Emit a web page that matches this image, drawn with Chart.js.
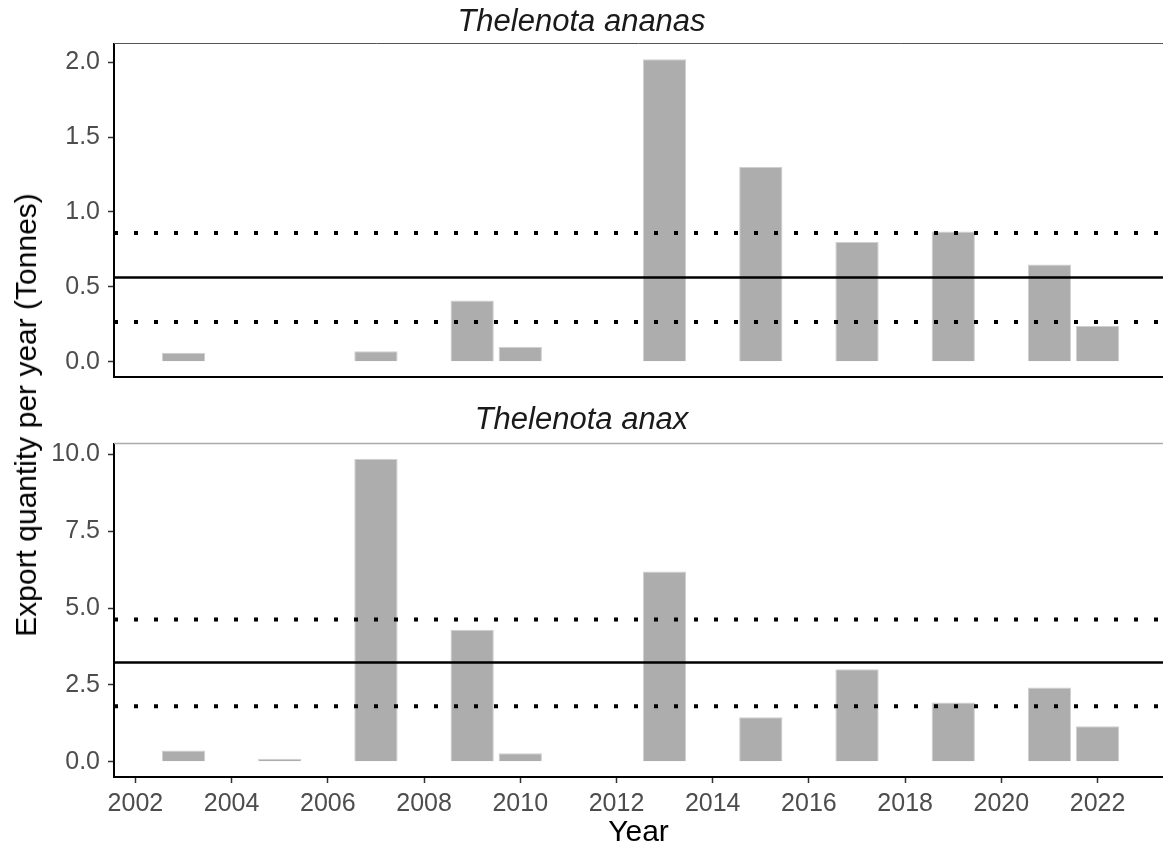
<!DOCTYPE html>
<html>
<head>
<meta charset="utf-8">
<script src="https://cdn.jsdelivr.net/npm/chart.js@4.4.1/dist/chart.umd.min.js"></script>
<style>
  body { margin: 0; background: #fff; }
  #wrap { position: relative; width: 1163px; height: 851px; overflow: hidden; font-family: 'Liberation Sans', Arial, sans-serif; }
  canvas { position: absolute; left: 0; }
  #topChart { top: 0; }
  #bottomChart { top: 380px; }
  #yTitle {
    position: absolute; left: 26px; top: 415px;
    transform: translate(-50%, -50%) rotate(-90deg);
    white-space: nowrap; font-size: 30px; line-height: 30px; color: #000;
  }
</style>
</head>
<body>
<div id="wrap">
  <canvas id="topChart" width="1163" height="380"></canvas>
  <canvas id="bottomChart" width="1163" height="471"></canvas>
  <div id="yTitle">Export quantity per year (Tonnes)</div>
</div>
<script>
// data
const years = [2003, 2005, 2007, 2009, 2010, 2013, 2015, 2017, 2019, 2021, 2022];
const ananas = [0.06, null, 0.07, 0.41, 0.10, 2.02, 1.30, 0.80, 0.87, 0.65, 0.24];
const anax = [0.37, 0.10, 9.84, 4.29, 0.28, 6.19, 1.45, 3.01, 1.93, 2.42, 1.16];

// mean and band (lower, upper) per species
const ananasMean = 0.563;
const ananasBand = [0.266, 0.86];
const anaxMean = 3.23;
const anaxBand = [1.81, 4.63];

const xTicks = [2002, 2004, 2006, 2008, 2010, 2012, 2014, 2016, 2018, 2020, 2022];
const ananasTicks = [0, 0.5, 1.0, 1.5, 2.0];
const anaxTicks = [0, 2.5, 5.0, 7.5, 10.0];

const X_MIN = 2001.555;
const X_MAX = 2023.36;

const FONT = "'Liberation Sans', Arial, sans-serif";
const TICK_COLOR = '#4D4D4D';

// line along the top of the panel (strip edge)
const stripLine = {
    id: 'stripLine',
    afterDraw(chart, args, opts) {
        const a = chart.chartArea;
        const ctx = chart.ctx;
        ctx.save();
        ctx.strokeStyle = opts.color;
        ctx.lineWidth = opts.width;
        ctx.beginPath();
        ctx.moveTo(a.left, a.top - 0.5);
        ctx.lineTo(a.right, a.top - 0.5);
        ctx.stroke();
        ctx.restore();
    }
};

function hline(y, dotted) {
    return {
        type: 'line',
        data: [{x: X_MIN, y: y}, {x: X_MAX, y: y}],
        borderColor: '#000',
        borderWidth: dotted ? 4 : 2.5,
        borderDash: dotted ? [4, 16] : [],
        borderCapStyle: 'butt',
        pointRadius: 0,
        fill: false,
        order: 0
    };
}

function makePanel(canvasId, title, values, mean, band, yTicks, yMin, yMax, bottom) {
    const bars = years.map((yr, i) => ({x: yr, y: values[i]})).filter(d => d.y !== null);
    return new Chart(document.getElementById(canvasId), {
        type: 'bar',
        data: {
            datasets: [
                hline(band[1], true),
                hline(mean, false),
                hline(band[0], true),
                {
                    data: bars,
                    backgroundColor: '#ADADAD',
                    borderColor: '#CFCFCF',
                    borderWidth: 1,
                    barPercentage: 0.9,
                    categoryPercentage: 1.0,
                    order: 1
                }
            ]
        },
        options: {
            responsive: false,
            animation: false,
            events: [],
            layout: { padding: { left: 0, right: 0, top: 0, bottom: bottom ? 0 : 3 } },
            plugins: {
                legend: { display: false },
                tooltip: { enabled: false },
                title: {
                    display: true,
                    text: title,
                    color: '#1A1A1A',
                    font: { family: FONT, size: 31, style: 'italic', weight: 'normal', lineHeight: 1.2 },
                    padding: bottom ? { top: 22, bottom: 4.8 } : { top: 4, bottom: 2.8 }
                },
                stripLine: { color: bottom ? '#ABABAB' : '#555555', width: bottom ? 1.5 : 1 }
            },
            scales: {
                x: {
                    type: 'linear',
                    min: X_MIN,
                    max: X_MAX,
                    offset: false,
                    bounds: 'data',
                    afterBuildTicks: s => { s.ticks = xTicks.map(v => ({value: v})); },
                    afterFit: a => { a.height = bottom ? 74 : 0; },
                    grid: {
                        display: bottom,
                        offset: false,
                        drawOnChartArea: false,
                        drawTicks: bottom,
                        tickLength: 6,
                        tickColor: '#333333',
                        tickWidth: 1.5
                    },
                    border: { display: true, color: '#000', width: 2 },
                    ticks: {
                        display: bottom,
                        autoSkip: false,
                        maxRotation: 0,
                        padding: 6,
                        color: TICK_COLOR,
                        font: { family: FONT, size: 25 },
                        callback: v => String(v)
                    },
                    title: {
                        display: bottom,
                        text: 'Year',
                        color: '#000',
                        font: { family: FONT, size: 30, lineHeight: 1 },
                        padding: { top: 0, bottom: 3 }
                    }
                },
                y: {
                    min: yMin,
                    max: yMax,
                    bounds: 'data',
                    afterBuildTicks: s => { s.ticks = yTicks.map(v => ({value: v})); },
                    afterFit: a => { a.width = 114; a.paddingTop = 0; a.paddingBottom = 0; },
                    grid: {
                        drawOnChartArea: false,
                        drawTicks: true,
                        tickLength: 6,
                        tickColor: '#333333',
                        tickWidth: 1.5
                    },
                    border: { display: true, color: '#000', width: 2 },
                    ticks: {
                        padding: 8,
                        color: TICK_COLOR,
                        font: { family: FONT, size: 25 },
                        callback: v => Number(v).toFixed(1)
                    }
                }
            }
        },
        plugins: [stripLine]
    });
}

makePanel('topChart', 'Thelenota ananas', ananas, ananasMean, ananasBand, ananasTicks, -0.101, 2.121, false);
makePanel('bottomChart', 'Thelenota anax', anax, anaxMean, anaxBand, anaxTicks, -0.492, 10.33, true);
</script>
</body>
</html>
